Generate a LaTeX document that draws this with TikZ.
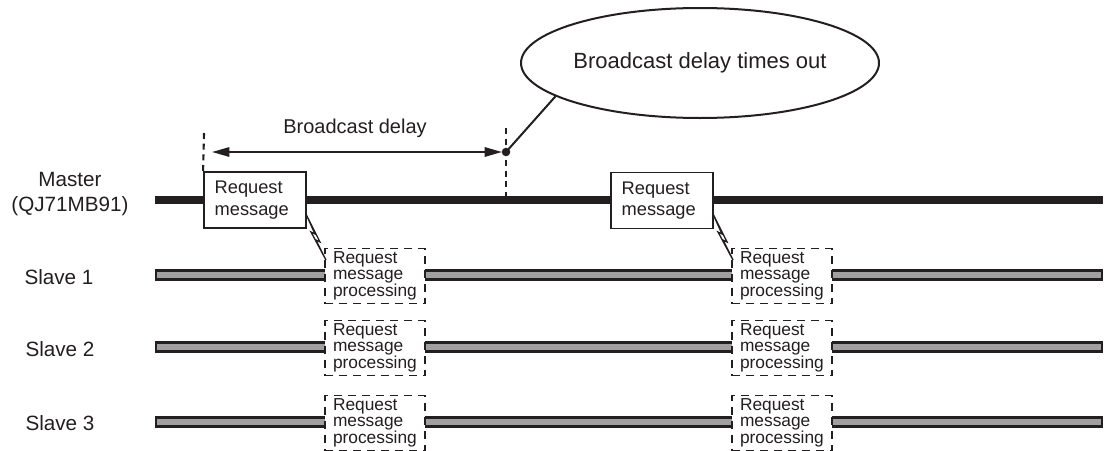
\documentclass[tikz,border=0pt]{standalone}
\usepackage{fontspec}
\setmainfont{Liberation Sans}
\usetikzlibrary{shapes.geometric,arrows.meta}
\definecolor{ink}{HTML}{231F20}
\definecolor{bargray}{HTML}{A0A0A0}
\begin{document}
\begin{tikzpicture}[x=0.75pt,y=-0.75pt,
  lbl/.style={text=ink, font=\fontsize{15.5}{18.75}\selectfont, align=center, inner sep=0},
  reqbox/.style={draw=ink, fill=white, line width=1.4pt, minimum width=76.5pt, minimum height=42pt,
     inner xsep=8pt, inner ysep=0pt, text width=60.5pt, align=left, text=ink,
     font=\fontsize{13.7}{16}\selectfont},
  procbox/.style={draw=ink, fill=white, dash pattern=on 6pt off 4.5pt, line width=1.4pt,
     minimum width=75pt, minimum height=41.25pt, inner xsep=6pt, inner ysep=0pt, text width=63pt,
     align=left, text=ink, font=\fontsize{13}{12}\selectfont},
  masterbar/.style={draw=ink, line width=6pt},
  slavebar/.style={draw=ink, fill=bargray, line width=2pt},
  guide/.style={draw=ink, line width=1.6pt, dash pattern=on 4.5pt off 3.5pt},
  bolt/.style={draw=ink, line width=1pt, line join=miter},
  tip/.style={ink, line width=1.5pt}
]
\useasboundingbox (0,0) rectangle (1107,450);

% bars
\coordinate (mbl) at (155,200); \coordinate (mbr) at (1103,200);
\draw[masterbar] (mbl) -- (mbr);
\path[slavebar] (156,270.5) rectangle (1102,279.5);
\path[slavebar] (156,342.5) rectangle (1102,351.5);
\path[slavebar] (156,417.5) rectangle (1102,426.5);

% labels
\node[lbl] (master) at (70,194.5) {Master\\(QJ71MB91)};
\node[lbl] (s1) at (59,277) {Slave 1};
\node[lbl] (s2) at (60,349) {Slave 2};
\node[lbl] (s3) at (60,423) {Slave 3};

% request boxes
\node[reqbox] (m1) at (255,200) {Request\\message};
\node[reqbox] (m2) at (662,200.5) {Request\\message};

% processing boxes
\node[procbox] (p11) at (375,276) {Request\\message\\processing};
\node[procbox] (p21) at (375,348) {Request\\message\\processing};
\node[procbox] (p31) at (375,423) {Request\\message\\processing};
\node[procbox] (p12) at (782,276) {Request\\message\\processing};
\node[procbox] (p22) at (782,348) {Request\\message\\processing};
\node[procbox] (p32) at (782,423) {Request\\message\\processing};

% lightning bolts
\draw[bolt] (306,214) -- (320,242) -- (316,240) -- (326,260) -- (311,232) -- (315,234) -- cycle;
\begin{scope}[shift={(407,0)}]
\draw[bolt] (306,214) -- (320,242) -- (316,240) -- (326,260) -- (311,232) -- (315,234) -- cycle;
\end{scope}

% broadcast delay
\coordinate (gl) at (204,133);
\draw[guide] (gl) -- (m1.north west);
\coordinate (gr0) at (506,128); \coordinate (gr1) at (506,200);
\draw[guide] (gr0) -- (gr1);
\coordinate (al) at (212,152); \coordinate (dot) at (506,152);
\draw[tip, {Triangle[length=13pt,width=7pt]}-{Triangle[length=13pt,width=7pt]}] (al) -- ([xshift=-3pt]dot);
\fill[ink] (dot) circle (3.2pt);
\node[text=ink, font=\fontsize{15}{18}\selectfont, inner sep=0] (bdl) at (355,128) {Broadcast delay};

% ellipse
\node[draw=ink, ellipse, line width=1.5pt, minimum width=266pt, minimum height=82.5pt, inner sep=0,
      text=ink, font=\fontsize{16.5}{19}\selectfont] (ell) at (700,63) {Broadcast delay times out};
\draw[ink, line width=1.5pt] (dot) -- (ell.193);
\end{tikzpicture}
\end{document}
